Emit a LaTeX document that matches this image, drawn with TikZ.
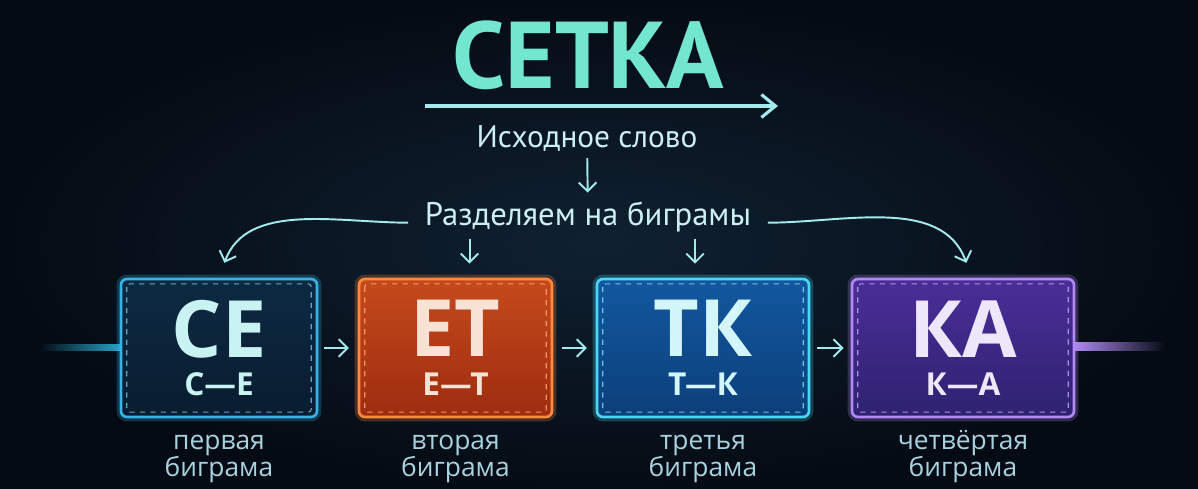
\documentclass[tikz,border=0pt]{standalone}
\usepackage{fontspec}
\setmainfont{Open Sans}
\newfontfamily\headfont{PT Sans}
\usetikzlibrary{arrows.meta,positioning,calc}
\definecolor{bgDark}{HTML}{050B14}
\definecolor{bgMid}{HTML}{0F2131}
\definecolor{lineColor}{HTML}{A2EAEE}
\definecolor{titleColor}{HTML}{72E6CE}
\definecolor{textColor}{HTML}{CCEFF3}
\definecolor{labelColor}{HTML}{A8D2DE}
\definecolor{ceLine}{HTML}{3AB2E6}
\definecolor{ceTop}{HTML}{0C2A42}
\definecolor{ceBottom}{HTML}{0A1C30}
\definecolor{ceText}{HTML}{C8F3F2}
\definecolor{etLine}{HTML}{FF8A3C}
\definecolor{etTop}{HTML}{C54A1C}
\definecolor{etBottom}{HTML}{9E2C10}
\definecolor{etText}{HTML}{F7E2D4}
\definecolor{tkLine}{HTML}{4AD6F4}
\definecolor{tkTop}{HTML}{1258A0}
\definecolor{tkBottom}{HTML}{0C3F7A}
\definecolor{tkText}{HTML}{D2F6FA}
\definecolor{kaLine}{HTML}{B08AF2}
\definecolor{kaTop}{HTML}{4A2E98}
\definecolor{kaBottom}{HTML}{2E2270}
\definecolor{kaText}{HTML}{EEE6FB}
\newcommand{\bigLetters}{\fontsize{45}{45}\selectfont}
\tikzset{bigram/.style n args={4}{draw=#1, top color=#2, bottom color=#3, text=#4, line width=1.5pt, rounded corners=.12cm, minimum height=2.76cm, inner sep=0pt, align=center, font=\fontsize{18}{22}\selectfont\bfseries, preaction={draw=#1, line width=5pt, draw opacity=.25}}}
\tikzset{innerFrame/.style={dashed, line width=.6pt, rounded corners=.06cm, draw opacity=.8}}
\tikzset{labeltext/.style={font=\fontsize{15}{15.5}\selectfont, text=labelColor, align=center}}
\tikzset{midtext/.style={font=\headfont\fontsize{17.8}{20}\selectfont, text=textColor}}
\tikzset{titletext/.style={font=\headfont\fontsize{54}{54}\selectfont\bfseries, text=titleColor, inner sep=0pt}}
\tikzstyle{flow} = [draw=lineColor, line width=1.1pt, -{Straight Barb[length=5pt, width=10pt]}]

\begin{document}
\begin{tikzpicture}[x=0.02cm, y=-0.02cm, node distance=6pt and 10pt]
	% Background
	\shade[inner color=bgMid, outer color=bgDark] (0,0) rectangle (1198,489);
	\useasboundingbox (0,0) rectangle (1198,489);
	\shade[left color=bgDark, right color=ceLine!70!teal] (40,345) rectangle (121,351);
	\shade[left color=kaLine, right color=bgDark] (1074,343) rectangle (1165,351);

	% Nodes
	\node (title) [titletext] at (588,55) {СЕТКА};
	\coordinate (arrowStart) at (425,106);
	\coordinate (arrowEnd) at (778,106);
	\node (source) [midtext, anchor=base] at (587,148) {Исходное слово};
	\node (split) [midtext, font=\headfont\fontsize{18.6}{20}\selectfont, anchor=base] at (588,226) {Разделяем на биграмы};

	\node (ce) [bigram={ceLine}{ceTop}{ceBottom}{ceText}, minimum width=3.92cm] at (219,348) {{\bigLetters СЕ}\\С—Е};
	\node (et) [bigram={etLine}{etTop}{etBottom}{etText}, minimum width=3.86cm] at (455.5,348) {{\bigLetters ЕТ}\\Е—Т};
	\node (tk) [bigram={tkLine}{tkTop}{tkBottom}{tkText}, minimum width=4.24cm] at (703,348) {{\bigLetters ТК}\\Т—К};
	\node (ka) [bigram={kaLine}{kaTop}{kaBottom}{kaText}, minimum width=4.44cm] at (963,348) {{\bigLetters КА}\\К—А};

	\foreach \b/\c in {ce/ceLine, et/etLine, tk/tkLine, ka/kaLine}
		\draw[innerFrame, draw=\c!70!white] ([shift={(4pt,-3.5pt)}]\b.north west) rectangle ([shift={(-4pt,3.5pt)}]\b.south east);

	\node (ceLabel) [labeltext, below=of ce] {первая\\биграма};
	\node (etLabel) [labeltext, below=of et] {вторая\\биграма};
	\node (tkLabel) [labeltext, below=of tk] {третья\\биграма};
	\node (kaLabel) [labeltext, below=3.2pt of ka] {четвёртая\\биграма};

	% Connectors
	\begin{scope}[flow]
		\draw [line width=1.8pt, -{Straight Barb[length=8pt, width=13pt]}] (arrowStart) -- (arrowEnd);
		\draw [shorten >=2pt] (source) -- (split);
		\draw [shorten <=6pt, shorten >=9pt] ([yshift=-3pt]split.west) to[out=180, in=70] (ce.north);
		\draw [shorten <=6pt, shorten >=9pt] ([yshift=-3pt]split.east) to[out=0, in=110] ([xshift=5pt]ka.north);
		\draw [shorten >=8pt] ([xshift=8pt]et.north |- split.south) -- ([xshift=8pt]et.north);
		\draw [shorten >=8pt] ([xshift=-4.5pt]tk.north |- split.south) -- ([xshift=-4.5pt]tk.north);
		\draw [shorten <=3pt, shorten >=5pt] (ce) -- (et);
		\draw [shorten <=5pt, shorten >=5pt] (et) -- (tk);
		\draw [shorten <=4pt, shorten >=4pt] (tk) -- (ka);
	\end{scope}
\end{tikzpicture}
\end{document}
